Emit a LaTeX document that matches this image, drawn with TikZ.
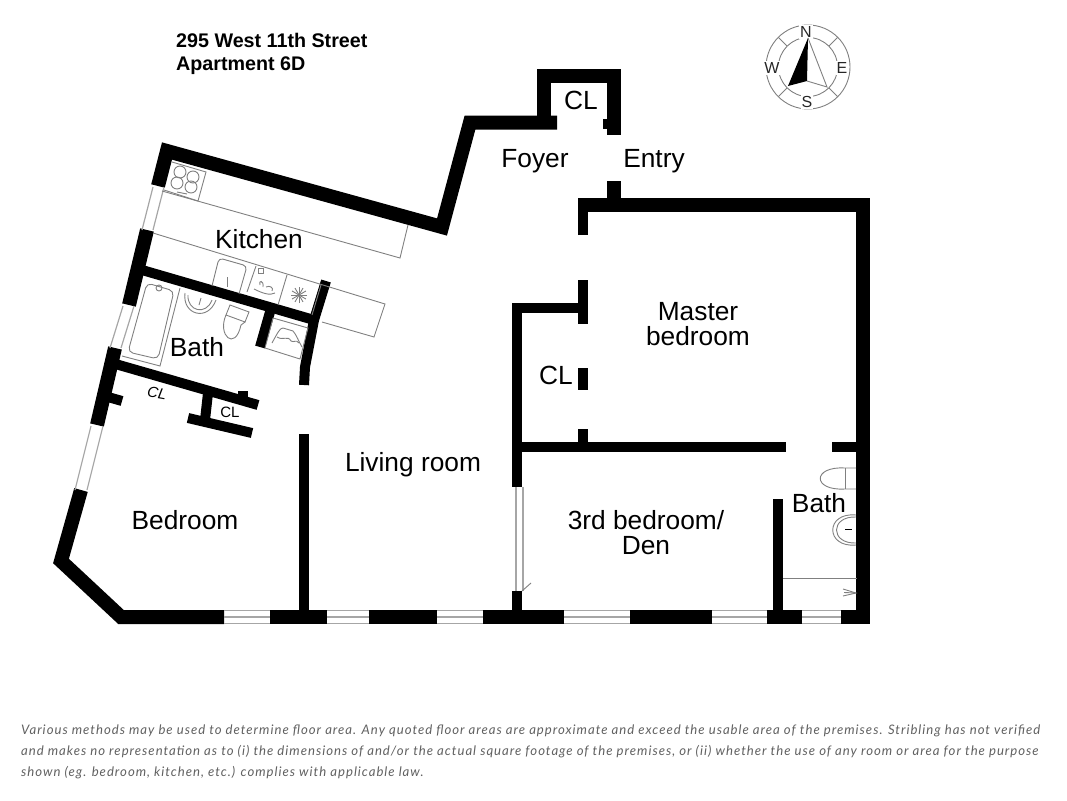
\documentclass[tikz,border=0pt]{standalone}
\usepackage{fontspec}
\setmainfont{Liberation Sans}
\newfontfamily\notefont[LetterSpace=7.5]{Lato}
\definecolor{fixgrey}{gray}{0.5}
\definecolor{notegrey}{gray}{0.38}
\tikzset{
  wall/.style={line width=14pt,black,line cap=butt,line join=miter},
  thinwall/.style={line width=10pt,black,line cap=butt,line join=miter},
  winline/.style={line width=1.2pt,fixgrey!70},
  fixture/.style={line width=0.9pt,fixgrey},
  roomlabel/.style={font=\fontsize{26.3}{25}\selectfont,align=center,inner sep=0pt},
  headlabel/.style={font=\fontsize{19.7}{23.5}\selectfont\bfseries,align=left,inner sep=0pt,anchor=north west},
  smallcl/.style={font=\fontsize{15}{16}\selectfont,inner sep=0pt},
  windlabel/.style={font=\fontsize{16}{16}\selectfont,inner sep=0pt,text=black!85},
  notelabel/.style={font=\fontsize{13.15}{14}\selectfont\notefont\itshape,text=notegrey,inner sep=0pt,anchor=west}
}
\begin{document}
\begin{tikzpicture}[x=1pt,y=-1pt]
\useasboundingbox (0,0) rectangle (1067,800);

% outer walls
\draw[wall] (158,186) -- (167,151) -- (442,227) -- (470,122.5) -- (557,122.5);
\draw[wall] (544,123) -- (544,76) -- (614,76) -- (614,135);
\fill (603,119) rectangle (608,129);
\draw[wall] (147,230) -- (129,305);
\draw[wall] (115,348) -- (97,425);
\draw[wall] (81,490) -- (61,561) -- (121,617) -- (224,617);
\draw[wall] (270,617) -- (327,617);
\draw[wall] (369,617) -- (437,617);
\draw[wall] (483,617) -- (564,617);
\draw[wall] (630,617) -- (712,617);
\draw[wall] (767,617) -- (802,617);
\draw[wall] (841,617) -- (863,617) -- (863,205) -- (578,205);
\draw[thinwall] (582.5,235) -- (582.5,200);
\draw[wall] (614,181) -- (614,205);

% bottom windows
\foreach \xa/\xb in {224/270,327/369,437/483,564/630,712/767,802/841}{
  \draw[winline] (\xa,610.5) -- (\xb,610.5);
  \draw[winline] (\xa,617) -- (\xb,617);
  \draw[winline] (\xa,623.5) -- (\xb,623.5);
}
% side windows
\draw[winline] (153,187) -- (142,230);
\draw[winline] (164,187) -- (153,230);
\draw[winline] (123,306) -- (110,348);
\draw[winline] (134,306) -- (121,348);
\draw[winline] (91,426) -- (75,490);
\draw[winline] (103,426) -- (87,490);

% inner walls, left side
\draw[thinwall] (142,270) -- (314,320);
\draw[thinwall] (270,312) -- (260,347);
\draw[thinwall] (326,281) -- (314,320) -- (305,367) -- (304,385);
\draw[thinwall] (112,363) -- (258,405);
\draw[thinwall] (208,393) -- (205,420);
\draw[thinwall] (188,418) -- (252,433);
\draw[thinwall] (108,397) -- (122,401);
\fill (238,391) rectangle (248,398);
\draw[thinwall] (303.5,434) -- (303.5,611);

% inner walls, right side
\draw[thinwall] (583,280) -- (583,324);
\draw[thinwall] (583,308) -- (516.5,308) -- (516.5,487);
\fill (578,368) rectangle (588,390);
\draw[thinwall] (583,429) -- (583,442);
\draw[thinwall] (516.5,447) -- (786,447);
\draw[thinwall] (832,447) -- (857,447);
\draw[thinwall] (516.5,591) -- (516.5,611);
\draw[thinwall] (778,499) -- (778,611);

% door
\draw[winline] (516,487) -- (516,591);
\draw[winline] (523,487) -- (523,591);
\draw[fixture] (522,591) -- (531,583);

% kitchen
\draw[fixture] (172,162) -- (206,172) -- (198,201) -- (164,190);
\foreach \cx/\cy in {180/172,193/177,177/183,191/187}
  \draw[fixture] (\cx,\cy) circle[radius=6];
\draw[fixture] (177,192) -- (187,194);
\draw[fixture] (162,191) -- (400,258) -- (408,225);
\draw[fixture] (153,233) -- (385,304) -- (374,337) -- (322,322);
\draw[fixture,rounded corners=4pt] (212,286) -- (219,258) -- (247,266) -- (239,294);
\draw[fixture] (227,277) -- (227,287);
\draw[fixture] (256,266) -- (247,292);
\draw[fixture] (287,275) -- (278,305);
\draw[fixture] (321,285) -- (312,315);
\draw[fixture] (258,268) rectangle (263,273);
\draw[fixture] (254,289) .. controls (262,293) and (270,296) .. (275,293);
\draw[fixture] (260,285) .. controls (258,280) and (264,280) .. (263,287);
\draw[fixture] (266,287) .. controls (270,285) and (274,288) .. (272,291);
\foreach \ang in {0,30,...,150}
  \draw[fixture] ({299+8*cos(\ang)},{295+8*sin(\ang)}) -- ({299-8*cos(\ang)},{295-8*sin(\ang)});

% bath with tub
\draw[fixture] (180,288) -- (160,366) -- (122,356);
\draw[fixture,rounded corners=5pt] (147,283) -- (174,291) -- (158,359) -- (128,352) -- cycle;
\draw[fixture] (159,288) circle[radius=3];
\draw[fixture] (185,293) .. controls (182,315) and (208,322) .. (216,300);
\draw[fixture] (188,295) .. controls (187,311) and (206,316) .. (212,300);
\draw[fixture] (201,298) -- (199,305);
\draw[fixture] (230,305) -- (249,312) -- (245,322) -- (226,315) -- cycle;
\draw[fixture] (226,315) .. controls (217,335) and (235,352) .. (241,325) -- (245,322);
\draw[fixture] (273,318) -- (308,328) -- (300,359) -- (265,348) -- (273,318);
\draw[fixture] (272,343) .. controls (278,332) and (280,328) .. (283,328) -- (293,331) .. controls (296,334) and (299,342) .. (302,347);
\draw[fixture] (277,337) .. controls (283,341) and (288,335) .. (291,341) .. controls (294,343) and (296,339) .. (299,343);

% small bath
\draw[fixture] (845,468) -- (845,489);
\draw[fixture] (856,468) -- (845,468) .. controls (812,466) and (812,491) .. (845,489) -- (856,489);
\draw[fixture] (856,515) .. controls (825,512) and (825,548) .. (856,545);
\draw[fixture] (856,517) .. controls (830,516) and (830,544) .. (856,543);
\draw[line width=1pt] (845,529) -- (852,529);
\draw[fixture] (783,578) -- (857,578);
\draw[fixture] (843,589) -- (856,593) -- (843,596);
\draw[fixture] (844,592.5) -- (856,593);

% compass
\draw[fixture] (808,67) circle[radius=42];
\draw[fixture] (808,67) circle[radius=29.5];
\foreach \ang in {45,135,225,315}
  \draw[fixture] ({808+29.5*cos(\ang)},{67+29.5*sin(\ang)}) -- ({808+42*cos(\ang)},{67+42*sin(\ang)});
\node[windlabel,fill=white,inner sep=1pt] (north) at (806,32) {N};
\node[windlabel,fill=white,inner sep=1pt] (south) at (807,102) {S};
\node[windlabel,fill=white,inner sep=1pt] (west) at (772,68) {W};
\node[windlabel,fill=white,inner sep=1pt] (east) at (842,68) {E};
\fill[white] (808,38) -- (788,86) -- (807,81) -- (827,87) -- cycle;
\fill[black] (808,38) -- (788,86) -- (807,81) -- cycle;
\draw[fixture] (808,38) -- (827,87) -- (807,81);

% labels
\node[headlabel] (head) at (176,33) {295 West 11th Street\\Apartment 6D};
\node[roomlabel] (kitchen) at (259,239) {Kitchen};
\node[roomlabel] (bathleft) at (197,347) {Bath};
\node[roomlabel] (foyer) at (535,161) {Foyer};
\node[roomlabel] (entry) at (654,161) {Entry};
\node[roomlabel] (clentry) at (581,100) {CL};
\node[roomlabel] (master) at (698,324) {Master\\bedroom};
\node[roomlabel] (clmaster) at (556,375) {CL};
\node[roomlabel] (living) at (413,465) {Living room};
\node[roomlabel] (bedroom) at (185,520) {Bedroom};
\node[roomlabel] (den) at (646,533) {3rd bedroom/\\Den};
\node[roomlabel] (bathright) at (819,503) {Bath};
\node[smallcl,rotate=-10] (clone) at (157,393) {\itshape CL};
\node[smallcl] (cltwo) at (230,412) {CL};

% note
\node[notelabel] (noteone) at (21,731) {Various methods may be used to determine floor area. Any quoted floor areas are approximate and exceed the usable area of the premises. Stribling has not verified};
\node[notelabel] (notetwo) at (21,752) {and makes no representation as to (i) the dimensions of and/or the actual square footage of the premises, or (ii) whether the use of any room or area for the purpose};
\node[notelabel] (notethree) at (21,773) {shown (eg. bedroom, kitchen, etc.) complies with applicable law.};

\end{tikzpicture}
\end{document}
